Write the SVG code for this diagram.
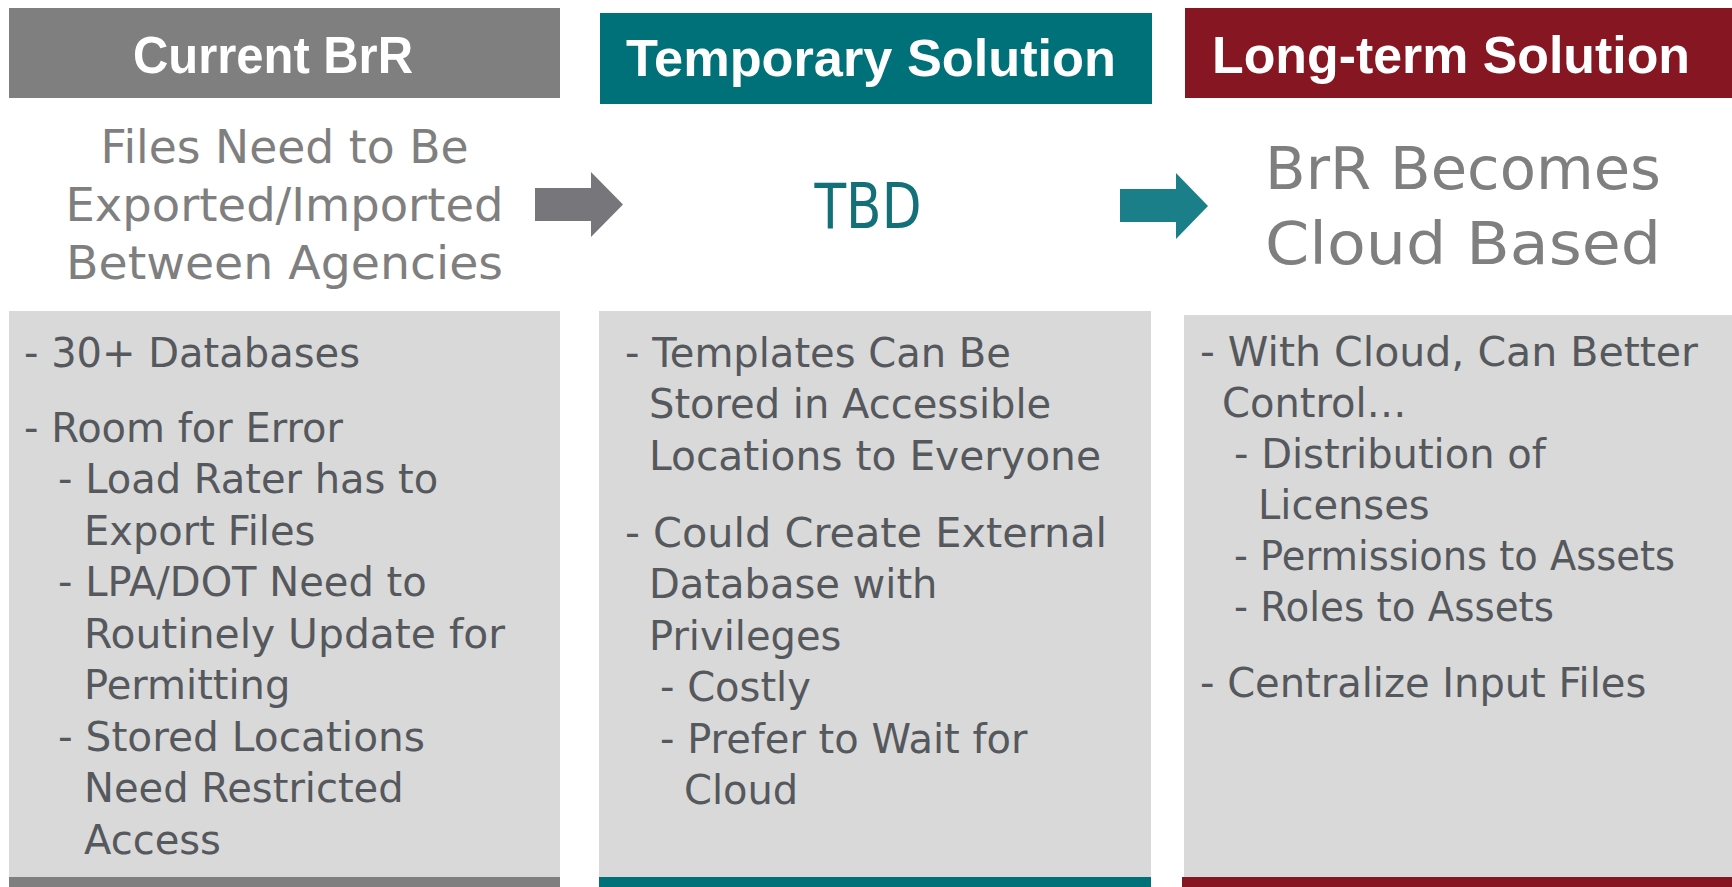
<svg xmlns="http://www.w3.org/2000/svg" width="1732" height="887" viewBox="0 0 1732 887">
<style>
.hdr{font-family:"Liberation Sans",Arial,sans-serif;font-weight:bold;font-size:52px;fill:#ffffff}
.sub{font-family:"DejaVu Sans",sans-serif;fill:#7f7f7f}
.body{font-family:"DejaVu Sans",sans-serif;font-size:40px;fill:#55585c}
.panel{fill:#d9d9d9}
</style>
<rect width="1732" height="887" fill="#ffffff"/>
<g id="col-current">
  <rect x="9" y="8" width="551" height="90" fill="#7f7f7f"/>
  <text class="hdr" x="133" y="73" textLength="280" lengthAdjust="spacingAndGlyphs">Current BrR</text>
  <g class="sub" font-size="46" text-anchor="middle">
    <text x="284.5" y="163" textLength="368" lengthAdjust="spacingAndGlyphs">Files Need to Be</text>
    <text x="284.5" y="221" textLength="438" lengthAdjust="spacingAndGlyphs">Exported/Imported</text>
    <text x="284.5" y="279" textLength="437" lengthAdjust="spacingAndGlyphs">Between Agencies</text>
  </g>
  <rect class="panel" x="9" y="311" width="551" height="566"/>
  <rect x="9" y="877" width="551" height="10" fill="#7f7f7f"/>
  <g class="body">
    <text x="24" y="366.5">- 30+ Databases</text>
    <text x="24" y="441.5">- Room for Error</text>
    <text x="58" y="493">- Load Rater has to</text>
    <text x="84" y="544.5">Export Files</text>
    <text x="58" y="596">- LPA/DOT Need to</text>
    <text x="84" y="647.5" textLength="421" lengthAdjust="spacingAndGlyphs">Routinely Update for</text>
    <text x="84" y="699">Permitting</text>
    <text x="58" y="750.5" textLength="367" lengthAdjust="spacingAndGlyphs">- Stored Locations</text>
    <text x="84" y="802">Need Restricted</text>
    <text x="84" y="853.5">Access</text>
  </g>
</g>
<g id="col-temporary">
  <rect x="600" y="13" width="552" height="91" fill="#007079"/>
  <text class="hdr" x="626" y="76" textLength="490" lengthAdjust="spacingAndGlyphs">Temporary Solution</text>
  <text x="868" y="228" font-family="DejaVu Sans, sans-serif" font-size="62" fill="#137079" text-anchor="middle" textLength="107" lengthAdjust="spacingAndGlyphs">TBD</text>
  <rect class="panel" x="599" y="311" width="552" height="566"/>
  <rect x="599" y="877" width="552" height="10" fill="#007079"/>
  <g class="body">
    <text x="625" y="366.5">- Templates Can Be</text>
    <text x="649" y="418">Stored in Accessible</text>
    <text x="649" y="469.5" textLength="452" lengthAdjust="spacingAndGlyphs">Locations to Everyone</text>
    <text x="625" y="546.5" textLength="482" lengthAdjust="spacingAndGlyphs">- Could Create External</text>
    <text x="649" y="598">Database with</text>
    <text x="649" y="649.5">Privileges</text>
    <text x="660" y="701">- Costly</text>
    <text x="660" y="752.5">- Prefer to Wait for</text>
    <text x="684" y="804">Cloud</text>
  </g>
</g>
<g id="col-longterm">
  <rect x="1185" y="8" width="547" height="90" fill="#861722"/>
  <text class="hdr" x="1212" y="73" textLength="478" lengthAdjust="spacingAndGlyphs">Long-term Solution</text>
  <g class="sub" font-size="58">
    <text x="1265" y="189" textLength="396" lengthAdjust="spacingAndGlyphs">BrR Becomes</text>
    <text x="1265" y="264" textLength="396" lengthAdjust="spacingAndGlyphs">Cloud Based</text>
  </g>
  <rect class="panel" x="1184" y="315" width="548" height="562"/>
  <rect x="1182" y="877" width="550" height="10" fill="#861722"/>
  <g class="body">
    <text x="1200" y="366" textLength="498" lengthAdjust="spacingAndGlyphs">- With Cloud, Can Better</text>
    <text x="1222" y="417">Control…</text>
    <text x="1234" y="468">- Distribution of</text>
    <text x="1258" y="519">Licenses</text>
    <text x="1234" y="570" textLength="441" lengthAdjust="spacingAndGlyphs">- Permissions to Assets</text>
    <text x="1234" y="621" textLength="320" lengthAdjust="spacingAndGlyphs">- Roles to Assets</text>
    <text x="1200" y="697">- Centralize Input Files</text>
  </g>
</g>
<g id="connectors">
  <polygon points="535,188 591,188 591,172 623,204.5 591,237 591,221 535,221" fill="#77777b"/>
  <polygon points="1120,189 1176,189 1176,173 1208,206 1176,239 1176,222 1120,222" fill="#1b7f8a"/>
</g>
</svg>
